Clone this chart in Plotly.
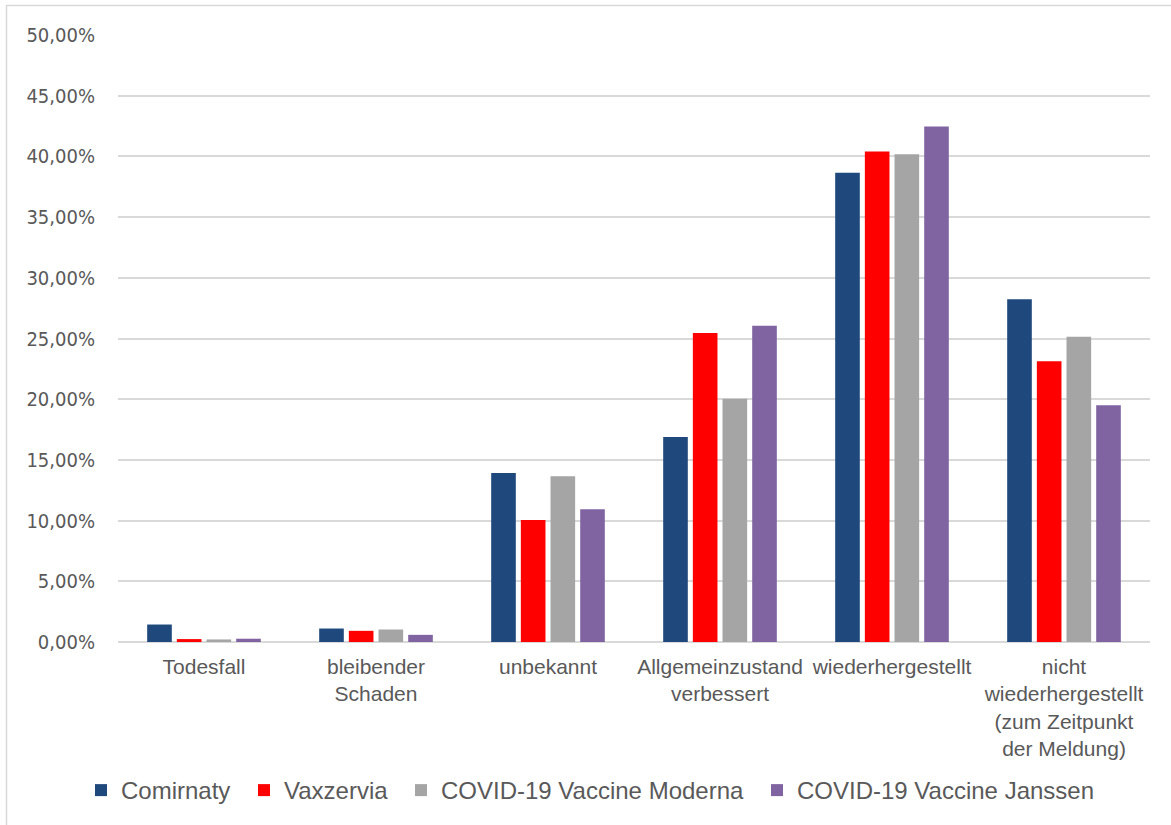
import plotly.graph_objects as go

categories = ["Todesfall", "bleibender<br>Schaden", "unbekannt", "Allgemeinzustand<br>verbessert",
              "wiederhergestellt", "nicht<br>wiederhergestellt<br>(zum Zeitpunkt<br>der Meldung)"]
comirnaty = [1.44, 1.11, 13.93, 16.89, 38.65, 28.24]
vaxzervia = [0.24, 0.92, 10.04, 25.45, 40.40, 23.13]
moderna = [0.21, 1.03, 13.65, 20.03, 40.17, 25.15]
janssen = [0.27, 0.59, 10.94, 26.05, 42.47, 19.50]
series_names = ["Comirnaty", "Vaxzervia", "COVID-19 Vaccine Moderna", "COVID-19 Vaccine Janssen"]
colors = ["#1F497D", "#FF0000", "#A5A5A5", "#8064A2"]
y_ticks = [0, 5, 10, 15, 20, 25, 30, 35, 40, 45, 50]

W, H = 1171, 825
L, R, T, B = 118, 21, 35, 181
pw, ph = W - L - R, H - T - B

def px_x(p):
    return (p - L) / pw

def px_y(p):
    return (H - B - p) / ph

legend_ids = ["legend", "legend2", "legend3", "legend4"]
legend_text_x = [119, 282, 439, 795]

fig = go.Figure()
for name, vals, col, lid in zip(series_names, [comirnaty, vaxzervia, moderna, janssen], colors, legend_ids):
    fig.add_trace(go.Bar(
        x=categories, y=[v / 100 for v in vals], name=name,
        marker=dict(color=col, line=dict(width=0)),
        legend=lid,
    ))

legend_font = dict(size=24, color="#595959", family="Liberation Sans, Arial, sans-serif")
legends = {}
for lid, tx in zip(legend_ids, legend_text_x):
    legends[lid] = dict(orientation="h", x=px_x(tx - 38), xanchor="left", y=px_y(793), yanchor="middle",
                        font=legend_font, bgcolor="rgba(0,0,0,0)", borderwidth=0)

fig.update_layout(
    width=W, height=H,
    margin=dict(l=L, r=R, t=T, b=B, pad=0),
    paper_bgcolor="white", plot_bgcolor="white",
    separators=",.",
    barmode="group", bargap=0.31, bargroupgap=0.17,
    font=dict(family="Liberation Sans, Arial, sans-serif", color="#595959", size=21),
    showlegend=True,
    xaxis=dict(showgrid=False, showline=False, ticks="",
               tickfont=dict(size=21, color="#595959"), ticklabelstandoff=10),
    yaxis=dict(range=[0, 0.5], tickvals=[t / 100 for t in y_ticks], tickformat=".2%",
               showgrid=True, gridcolor="#D9D9D9", gridwidth=1.5, zeroline=True,
               zerolinecolor="#D9D9D9", zerolinewidth=1.5, showline=False,
               tickfont=dict(size=20, color="#595959",
                             family="DejaVu Sans Condensed, Liberation Sans, Arial, sans-serif"),
               ticklabelstandoff=22),
    shapes=[dict(type="rect", xref="paper", yref="paper",
                 x0=px_x(6.5), x1=px_x(1190), y0=px_y(840), y1=px_y(5.5),
                 line=dict(color="#D9D9D9", width=1.5), fillcolor="rgba(0,0,0,0)", layer="below")],
    **legends,
)

fig.write_html("out.html")
